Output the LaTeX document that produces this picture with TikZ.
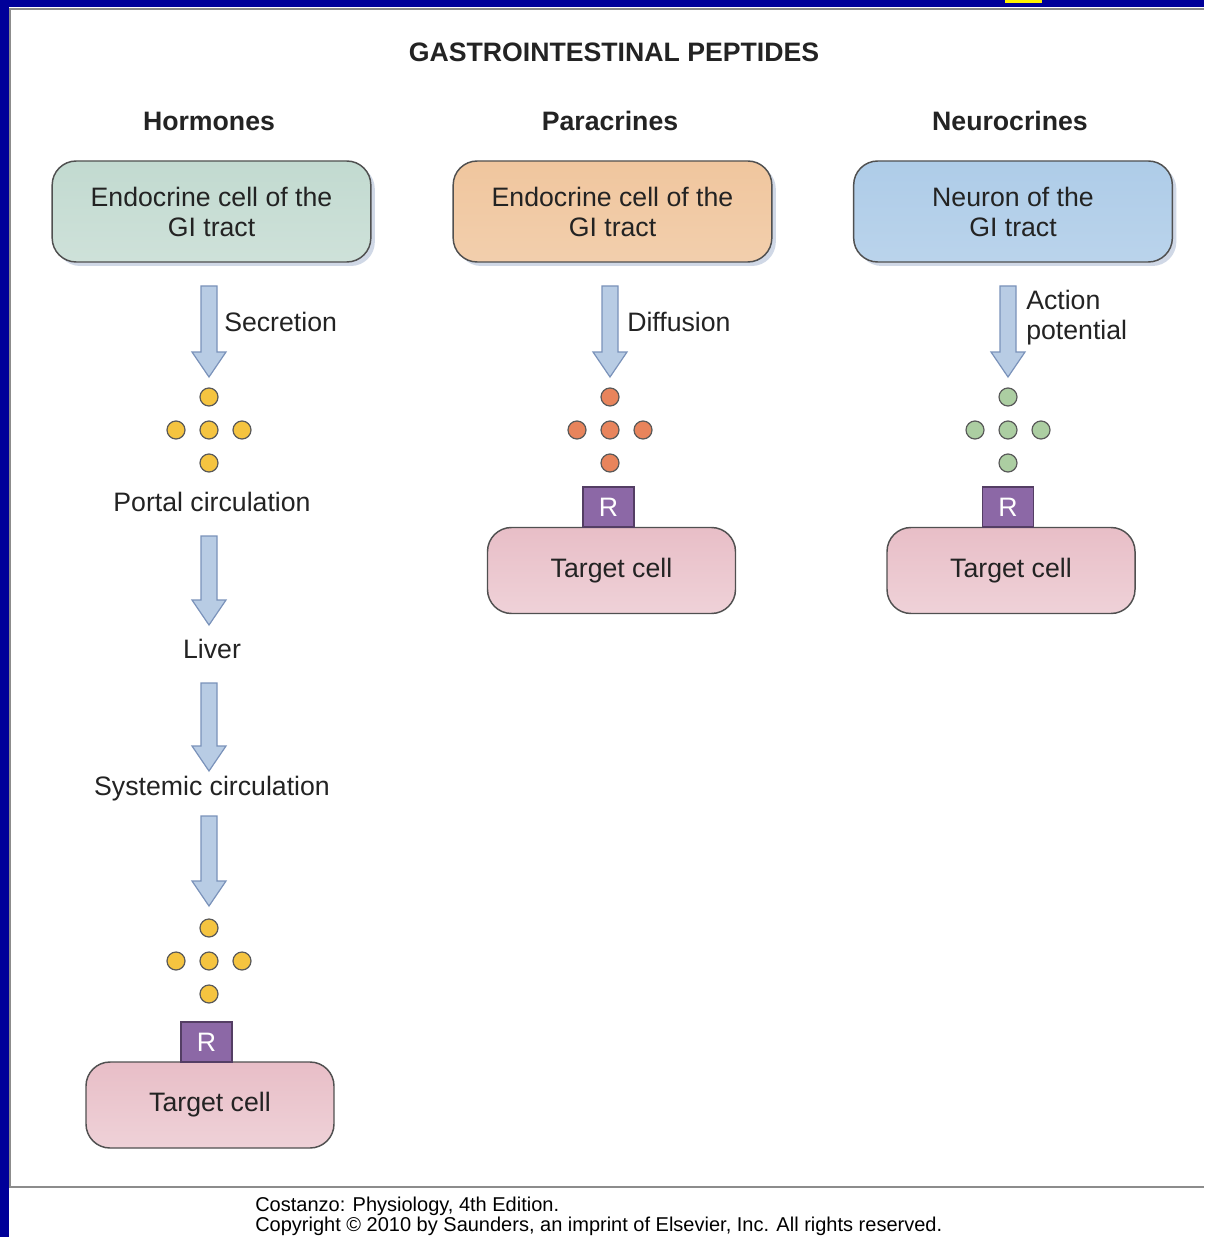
\documentclass[tikz,border=0pt]{standalone}
\usepackage{fontspec}
\setmainfont{Liberation Sans}
\usetikzlibrary{calc,shadows}

\definecolor{frameblue}{RGB}{0,0,153}
\definecolor{framegray}{RGB}{140,140,140}
\definecolor{inkgray}{RGB}{35,35,35}
\definecolor{boxline}{RGB}{80,80,80}
\definecolor{hormgreen}{RGB}{194,218,208}
\definecolor{paraorange}{RGB}{240,198,158}
\definecolor{neuroblue}{RGB}{174,204,232}
\definecolor{targetpink}{RGB}{232,190,199}
\definecolor{recpurple}{RGB}{140,104,166}
\definecolor{arrowfill}{RGB}{184,204,228}
\definecolor{arrowline}{RGB}{122,146,186}

\newcommand{\bodyfont}{\fontsize{20}{22.5}\selectfont}
\newcommand{\notefont}{\fontsize{15}{18}\selectfont}

\tikzset{
  headlbl/.style={font=\bodyfont\bfseries, text=inkgray, inner sep=0pt},
  textlbl/.style={font=\bodyfont, text=inkgray, inner sep=0pt, align=center},
  cellbox/.style={draw=boxline, line width=1.1pt, rounded corners=18pt,
    minimum width=239pt, minimum height=75.75pt, align=center,
    font=\bodyfont, text=inkgray,
    drop shadow={shadow xshift=3pt, shadow yshift=-3pt, opacity=0.35, fill=arrowline}},
  targetbox/.style={draw=boxline, line width=1.1pt, rounded corners=18pt,
    minimum width=186pt, minimum height=64.5pt, font=\bodyfont, text=inkgray,
    top color=targetpink, bottom color=targetpink!70!white},
  recbox/.style={draw=recpurple!60!black, line width=0.9pt, fill=recpurple,
    minimum width=38.25pt, minimum height=30pt, inner sep=0pt,
    font=\bodyfont, text=white},
  hormdot/.style={circle, draw=black!65, line width=0.9pt, fill={rgb,255:red,245;green,196;blue,64},
    minimum size=13.5pt, inner sep=0pt},
  paradot/.style={hormdot, fill={rgb,255:red,232;green,132;blue,92}},
  neurodot/.style={hormdot, fill={rgb,255:red,172;green,206;blue,162}},
  flowarrow/.style={draw=arrowline, line width=0.9pt, fill=arrowfill, line join=miter}
}

% block arrow from start coordinate #1 down to tip coordinate #2
\newcommand{\bigarrow}[2]{%
  \draw[flowarrow] ($(#1)+(-8,0)$) -- ($(#1)+(8,0)$) -- ($(#2)+(8,-25)$)
    -- ($(#2)+(17,-25)$) -- (#2) -- ($(#2)+(-17,-25)$) -- ($(#2)+(-8,-25)$) -- cycle;}

% five peptide dots in a cross, #1 prefix, #2/#3 centre, #4 style
\newcommand{\pepcross}[4]{%
  \foreach \n/\dx/\dy in {t/0/-33, l/-33/0, c/0/0, r/33/0, b/0/33}
    \node[#4] (#1\n) at ({#2+\dx},{#3+\dy}) {};}

\begin{document}
\begin{tikzpicture}[x=0.75pt,y=-0.75pt]
\useasboundingbox (0,0) rectangle (1204,1237);

% frame
\fill[frameblue] (0,0) rectangle (1204,1237);
\fill[white] (9,7) rectangle (1204,1237);
\fill[yellow] (1005,0) rectangle (1042,3.5);
\draw[framegray, line width=1.5pt] (1204,9) -- (10,9) -- (10,1187) -- (1204,1187);

% headings
\node[headlbl] (title) at (614,52) {GASTROINTESTINAL PEPTIDES};
\node[headlbl] (hhead) at (209,121) {Hormones};
\node[headlbl] (phead) at (610,121) {Paracrines};
\node[headlbl] (nhead) at (1010,121) {Neurocrines};

% source cells
\node[cellbox, top color=hormgreen, bottom color=hormgreen!80!white] (hcell) at (211.5,211.5) {Endocrine cell of the\\GI tract};
\node[cellbox, top color=paraorange, bottom color=paraorange!85!white] (pcell) at (612.5,211.5) {Endocrine cell of the\\GI tract};
\node[cellbox, top color=neuroblue, bottom color=neuroblue!85!white] (ncell) at (1013,211.5) {Neuron of the\\GI tract};

% hormones
\coordinate (hsec0) at (209,286);
\coordinate (hsec1) at (209,377);
\bigarrow{hsec0}{hsec1}
\node[textlbl, anchor=west] (hseclbl) at (224,322) {Secretion};
\pepcross{hpep}{209}{430}{hormdot}
\node[textlbl] (portal) at (212,502) {Portal circulation};
\coordinate (hpor0) at (209,536);
\coordinate (hpor1) at (209,625);
\bigarrow{hpor0}{hpor1}
\node[textlbl] (liver) at (212,649) {Liver};
\coordinate (hliv0) at (209,683);
\coordinate (hliv1) at (209,771);
\bigarrow{hliv0}{hliv1}
\node[textlbl] (systemic) at (212,789) {Systemic circulation};
\coordinate (hsys0) at (209,816);
\coordinate (hsys1) at (209,906);
\bigarrow{hsys0}{hsys1}
\pepcross{hblood}{209}{961}{hormdot}
\node[targetbox] (htarget) at (210,1105) {Target cell};
\node[recbox] (hrec) at (206.5,1042) {R};

% paracrines
\coordinate (pdif0) at (610,286);
\coordinate (pdif1) at (610,377);
\bigarrow{pdif0}{pdif1}
\node[textlbl, anchor=west] (pdiflbl) at (627,322) {Diffusion};
\pepcross{ppep}{610}{430}{paradot}
\node[targetbox] (ptarget) at (611.5,570.5) {Target cell};
\node[recbox] (prec) at (608.5,507) {R};

% neurocrines
\coordinate (nap0) at (1008,286);
\coordinate (nap1) at (1008,377);
\bigarrow{nap0}{nap1}
\node[textlbl, anchor=west, align=left] (naplbl) at (1026,318) {Action\\potential};
\pepcross{npep}{1008}{430}{neurodot}
\node[targetbox] (ntarget) at (1011,570.5) {Target cell};
\node[recbox] (nrec) at (1008,507) {R};

% source note
\node[anchor=west, font=\notefont, text=black, inner sep=0pt] (book) at (255,1206) {Costanzo: Physiology, 4th Edition.};
\node[anchor=west, font=\notefont, text=black, inner sep=0pt] (rights) at (255,1226) {Copyright © 2010 by Saunders, an imprint of Elsevier, Inc. All rights reserved.};
\end{tikzpicture}
\end{document}
